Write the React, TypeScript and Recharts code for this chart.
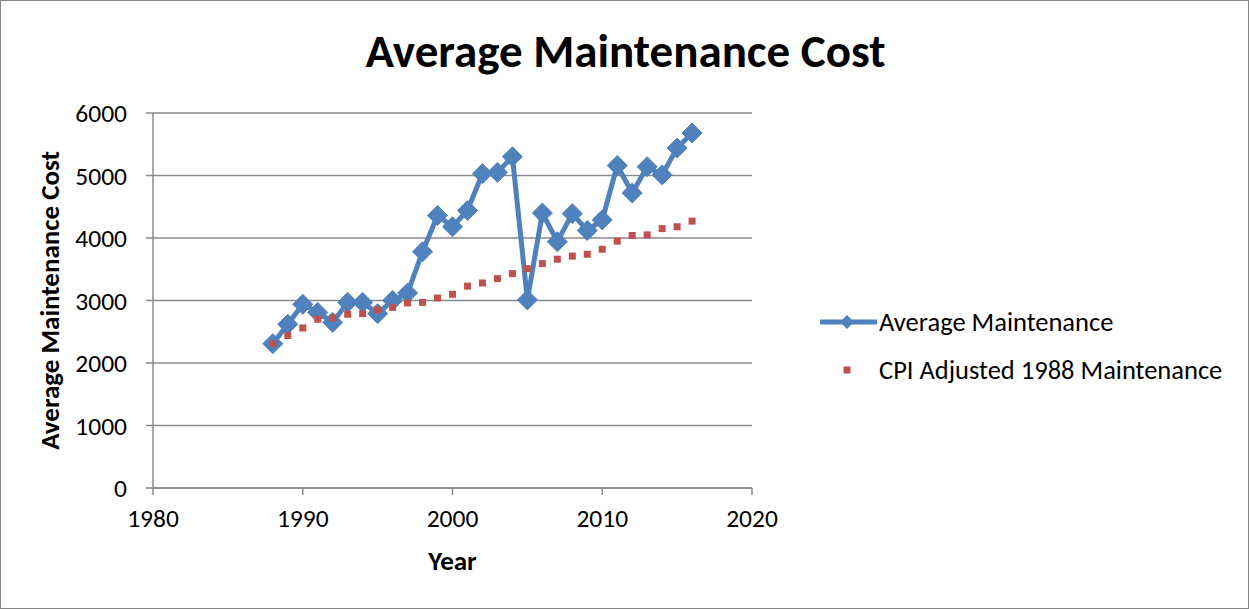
import React from "react";
import { LineChart, Line, XAxis, YAxis, CartesianGrid, Label } from "recharts";

const years = [1988, 1989, 1990, 1991, 1992, 1993, 1994, 1995, 1996, 1997, 1998, 1999, 2000, 2001, 2002, 2003, 2004, 2005, 2006, 2007, 2008, 2009, 2010, 2011, 2012, 2013, 2014, 2015, 2016];

const avgMaintenance = [2310, 2620, 2940, 2810, 2650, 2970, 2970, 2790, 3000, 3120, 3780, 4360, 4180, 4440, 5030, 5050, 5300, 3010, 4400, 3940, 4390, 4120, 4290, 5160, 4720, 5140, 5010, 5440, 5680];

const cpiAdjusted = [2310, 2440, 2560, 2700, 2720, 2780, 2790, 2850, 2890, 2960, 2970, 3040, 3100, 3230, 3280, 3350, 3430, 3510, 3590, 3660, 3710, 3740, 3820, 3950, 4040, 4050, 4150, 4180, 4270];

const xTicks = [1980, 1990, 2000, 2010, 2020];
const yTicks = [0, 1000, 2000, 3000, 4000, 5000, 6000];

const BLUE = "#4f81bd";
const RED = "#c0504d";
const FONT = "Carlito, Calibri, Lato, sans-serif";

const data = years.map((year, i) => ({
  year,
  avg: avgMaintenance[i],
  cpi: cpiAdjusted[i],
}));

const Diamond = (props: any) => {
  const { cx, cy } = props;
  if (cx == null || cy == null) return null;
  const r = 10;
  return (
    <polygon
      points={`${cx},${cy - r} ${cx + r},${cy} ${cx},${cy + r} ${cx - r},${cy}`}
      fill={BLUE}
      stroke={BLUE}
    />
  );
};

const Square = (props: any) => {
  const { cx, cy } = props;
  if (cx == null || cy == null) return null;
  return <rect x={cx - 3.5} y={cy - 3.5} width={7} height={7} fill={RED} />;
};

// legend drawn outside the chart so it doesn't eat plot space
const LegendBox = () => (
  <div style={{ position: "absolute", left: 817, top: 304, fontFamily: FONT, fontSize: 26.5, color: "#000" }}>
    <div style={{ display: "flex", alignItems: "center", height: 34 }}>
      <svg width={61} height={20}>
        <line x1={2} y1={10} x2={59} y2={10} stroke={BLUE} strokeWidth={5} />
        <polygon points="29,3 36,10 29,17 22,10" fill={BLUE} />
      </svg>
      <span>Average Maintenance</span>
    </div>
    <div style={{ display: "flex", alignItems: "center", height: 34, marginTop: 14 }}>
      <svg width={61} height={20}>
        <rect x={25.5} y={6.5} width={7} height={7} fill={RED} />
      </svg>
      <span>CPI Adjusted 1988 Maintenance</span>
    </div>
  </div>
);

export default function App() {
  return (
    <div
      style={{
        position: "absolute",
        left: 0,
        top: 0,
        width: 1249,
        height: 609,
        boxSizing: "border-box",
        border: "1px solid #868686",
        background: "#fff",
        fontFamily: FONT,
      }}
    >
      <div
        style={{
          position: "absolute",
          left: 0,
          top: 20,
          width: 1249,
          textAlign: "center",
          fontSize: 47,
          fontWeight: "bold",
          color: "#000",
          lineHeight: "60px",
        }}
      >
        Average Maintenance Cost
      </div>
      <div style={{ position: "absolute", left: -1, top: -1 }}>
        <LineChart
          width={1249}
          height={609}
          data={data}
          margin={{ top: 113, right: 497, left: 33, bottom: 31 }}
        >
          <CartesianGrid vertical={false} stroke="#8a8a8a" strokeWidth={1.5} />
          <XAxis
            dataKey="year"
            type="number"
            domain={[1980, 2020]}
            ticks={xTicks}
            height={90}
            stroke="#8a8a8a"
            strokeWidth={1.5}
            tickSize={7}
            tick={{ fill: "#000", fontSize: 25.5, fontFamily: FONT }}
            tickMargin={14}
          >
            <Label
              value="Year"
              position="insideBottom"
              offset={8}
              style={{ fill: "#000", fontSize: 27, fontWeight: "bold", fontFamily: FONT }}
            />
          </XAxis>
          <YAxis
            type="number"
            domain={[0, 6000]}
            ticks={yTicks}
            width={120}
            stroke="#8a8a8a"
            strokeWidth={1.5}
            tickSize={7}
            tick={{ fill: "#000", fontSize: 25.5, fontFamily: FONT }}
            tickMargin={19}
          >
            <Label
              value="Average Maintenance Cost"
              angle={-90}
              position="insideLeft"
              offset={16}
              style={{ textAnchor: "middle", fill: "#000", fontSize: 27, fontWeight: "bold", fontFamily: FONT }}
            />
          </YAxis>
          <Line
            dataKey="avg"
            name="Average Maintenance"
            stroke={BLUE}
            strokeWidth={5}
            dot={<Diamond />}
            activeDot={false}
            isAnimationActive={false}
          />
          <Line
            dataKey="cpi"
            name="CPI Adjusted 1988 Maintenance"
            stroke="none"
            strokeWidth={0}
            dot={<Square />}
            activeDot={false}
            isAnimationActive={false}
          />
        </LineChart>
      </div>
      <LegendBox />
    </div>
  );
}
